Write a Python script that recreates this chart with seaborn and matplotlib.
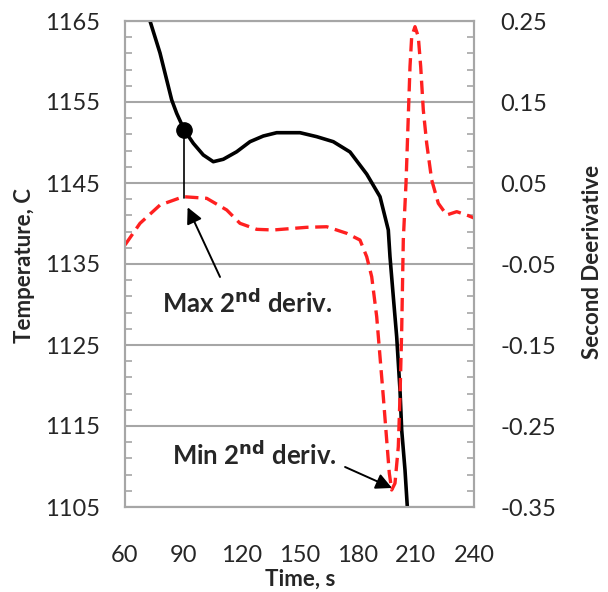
import matplotlib
matplotlib.use("Agg")
import matplotlib.pyplot as plt
import seaborn as sns
import numpy as np
import pandas as pd

# ---- data ----
temp_time = [72.9, 78.05, 84.09, 86.66, 90.58, 95.23, 100.38, 105.54, 110.70, 117.61,
             124.47, 131.33, 138.24, 150.26, 158.87, 167.43, 176.05, 184.66, 191.52,
             195.80, 196.67, 198.38, 200.13, 201.83, 202.71, 204.41, 205.60]
temp_vals = [1165.0, 1161.05, 1155.25, 1153.6, 1151.54, 1149.9, 1148.46, 1147.63,
             1147.93, 1148.86, 1150.10, 1150.80, 1151.21, 1151.21, 1150.72, 1150.10,
             1148.83, 1146.1, 1143.31, 1139.2, 1135.9, 1130.96, 1126.0, 1119.44,
             1114.5, 1109.57, 1105.04]

deriv_time = [60.0, 67.74, 78.05, 90.07, 102.14, 112.45, 119.31, 127.93, 136.49, 153.71,
              164.03, 174.34, 181.19, 184.66, 187.24, 189.82, 191.52, 193.22, 194.97,
              196.32, 197.55, 199.25, 200.96, 201.83, 202.71, 203.54, 204.93, 206.11,
              206.99, 207.86, 209.57, 211.27, 212.51, 213.85, 215.60, 218.18, 221.59,
              225.92, 231.08, 236.24, 240.0]
deriv_vals = [-0.0265, 0.0002, 0.0228, 0.0331, 0.0311, 0.0167, 0.0002, -0.0072, -0.0080,
              -0.0047, -0.0040, -0.0121, -0.0204, -0.0410, -0.0657, -0.1151, -0.1644,
              -0.2138, -0.2673, -0.3084, -0.3290, -0.3207, -0.2756, -0.2138, -0.1315,
              -0.0200, 0.0496, 0.1319, 0.1936, 0.2306, 0.2430, 0.2306, 0.1936, 0.1401,
              0.0990, 0.0537, 0.0249, 0.0105, 0.0146, 0.0105, 0.0068]

x_ticks = [60, 90, 120, 150, 180, 210, 240]
temp_ticks = [1105, 1115, 1125, 1135, 1145, 1155, 1165]
deriv_ticks = [-0.35, -0.25, -0.15, -0.05, 0.05, 0.15, 0.25]
deriv_ticklabels = ["-0.35", "-0.25", "-0.15", "-0.05", "0.05", "0.15", "0.25"]

dot_time = 90.58
dot_temp = 1151.54
peak_deriv = 0.031

max_text_pos = (79.1, -0.1105)
max_arrow_tail = (109.0, -0.066)
max_arrow_head = (92.3, 0.020)
min_text_pos = (84.1, -0.298)
min_arrow_tail = (173.5, -0.3006)
min_arrow_head = (197.7, -0.3265)

temp_df = pd.DataFrame({"Time": temp_time, "Temperature": temp_vals})
deriv_df = pd.DataFrame({"Time": deriv_time, "Deriv": deriv_vals})

# ---- style ----
sns.set_theme(style="white")
plt.rcParams["font.family"] = ["Lato", "DejaVu Sans"]

fig = plt.figure(figsize=(6.08, 5.92), dpi=100)
ax = fig.add_axes([125/608, 1 - 507/592, (474 - 125)/608, (507 - 21)/592])
ax2 = ax.twinx()

grid_c = "#a6a6a6"

sns.lineplot(data=temp_df, x="Time", y="Temperature", ax=ax, color="black",
             lw=2.6, sort=False, zorder=3)
sns.lineplot(data=deriv_df, x="Time", y="Deriv", ax=ax2, color="#ff2020",
             lw=2.4, sort=False, zorder=2)
ax2.lines[0].set_dashes([4, 2])
ax2.lines[0].set_dash_capstyle("butt")

ax.set_xlim(60, 240)
ax.set_ylim(1105, 1165)
ax2.set_ylim(-0.35, 0.25)

ax.set_xticks(x_ticks)
ax.set_xticks(np.arange(60, 241, 10), minor=True)
ax.set_yticks(temp_ticks)
ax.set_yticks(np.arange(1105, 1166, 2), minor=True)
ax2.set_yticks(deriv_ticks)
ax2.set_yticklabels(deriv_ticklabels)
ax2.set_yticks(np.arange(-0.35, 0.2501, 0.02), minor=True)

for a in (ax, ax2):
    for s in a.spines.values():
        s.set_color(grid_c)
        s.set_linewidth(1.5)
    a.tick_params(which="both", direction="in", color=grid_c, width=1.2, length=5)

ax.tick_params(axis="y", which="major", pad=18, labelsize=17)
ax.tick_params(axis="x", which="major", pad=27, labelsize=17)
ax2.tick_params(axis="y", which="major", pad=19, labelsize=17, left=False)
ax2.tick_params(axis="y", which="minor", left=False)
ax.tick_params(axis="x", which="both", top=False)

ax.grid(axis="y", color=grid_c, lw=1.5)
ax.set_axisbelow(True)

ax.set_xlabel("Time, s", fontsize=16, fontweight="bold")
ax.set_ylabel("Temperature, C", fontsize=16, fontweight="bold")
ax2.set_ylabel("Second Deerivative", fontsize=16, fontweight="bold")
ax.xaxis.set_label_coords(0.501, -0.127)
ax.yaxis.set_label_coords(-0.258, 0.496)
ax2.yaxis.set_label_coords(1.309, 0.505)

# marker and connector
ax.plot([dot_time], [dot_temp], "o", color="black", ms=11, zorder=5)
peak_temp = 1105 + (peak_deriv + 0.35) / 0.6 * 60
ax.plot([dot_time, dot_time], [dot_temp, peak_temp], color="black", lw=1.2, zorder=4)

arrow_kw = dict(arrowstyle="-|>", color="black", lw=1.4, mutation_scale=24,
                shrinkA=0, shrinkB=0)
ax2.text(*max_text_pos, "Max 2$^{\\mathbf{nd}}$ deriv.", fontsize=18.5, fontweight="bold",
         ha="left", va="baseline")
ax2.annotate("", xy=max_arrow_head, xytext=max_arrow_tail, arrowprops=arrow_kw)
ax2.text(*min_text_pos, "Min 2$^{\\mathbf{nd}}$ deriv.", fontsize=18.5, fontweight="bold",
         ha="left", va="baseline")
ax2.annotate("", xy=min_arrow_head, xytext=min_arrow_tail, arrowprops=arrow_kw)

fig.savefig("out.png", dpi=100)
